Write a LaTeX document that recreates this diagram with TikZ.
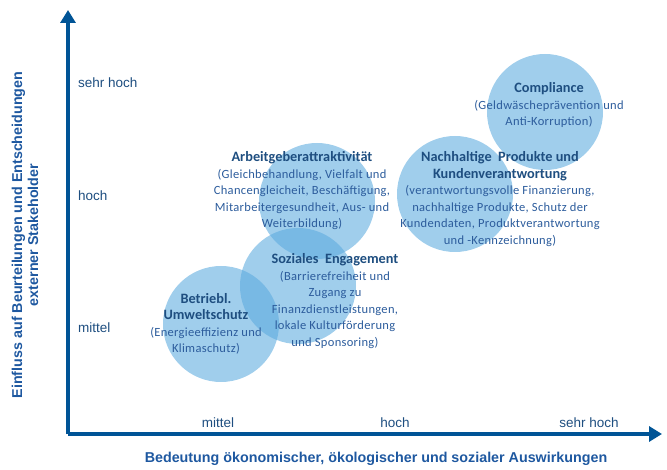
\documentclass[tikz,border=0pt]{standalone}
\usepackage{fontspec}
\setmainfont{Carlito}
\newfontfamily\bodyfont[LetterSpace=2.5]{Carlito}
\newfontfamily\axisfont{Liberation Sans}
\usepackage{tikz}
\usetikzlibrary{shapes,arrows.meta,positioning,calc}
\definecolor{axisblue}{RGB}{0,84,150}
\definecolor{titleblue}{RGB}{30,78,128}
\definecolor{bodyblue}{RGB}{44,92,156}
\definecolor{labelblue}{RGB}{30,88,160}
\definecolor{bubbleblue}{RGB}{91,170,222}
\tikzstyle{bubble} = [circle, fill=bubbleblue, fill opacity=0.58, minimum size=116pt, inner sep=0pt]
\tikzstyle{topic} = [align=center, text=bodyblue, inner sep=0pt, font=\bodyfont\fontsize{12.5}{16.5}\selectfont]
\tikzstyle{level} = [text=titleblue, inner sep=0pt, font=\axisfont\fontsize{13.5}{16}\selectfont]
\tikzstyle{axislabel} = [text=labelblue, inner sep=0pt, align=center, font=\axisfont\bfseries\fontsize{14.3}{16}\selectfont]
\tikzstyle{axis} = [draw=axisblue, line width=3.2pt, -{Triangle[length=13pt,width=15pt]}]
\newcommand{\ttl}[1]{{\fontsize{14.3}{16.5}\selectfont\rmfamily\bfseries\textcolor{titleblue}{#1}}}

\begin{document}
\begin{tikzpicture}[x=1pt, y=1pt]
		\useasboundingbox (0,0) rectangle (667,469);
		% Axes
		\coordinate (Origin) at (68,35);
		\coordinate (YTip) at (68,459);
		\coordinate (XTip) at (662,35);
		\path [axis] (Origin) -- (YTip);
		\path [axis] (Origin) -- (XTip);
		
		% Levels
		\node[level, anchor=west] (YVeryHigh) at (78,386) {sehr hoch};
		\node[level, anchor=west] (YHigh) at (78,273) {hoch};
		\node[level, anchor=west] (YMedium) at (78,141) {mittel};
		\node[level] (XMedium) at (218,46) {mittel};
		\node[level] (XHigh) at (395,46) {hoch};
		\node[level] (XVeryHigh) at (589,46) {sehr hoch};
		
		% Axis titles
		\node[axislabel] (XTitle) at (376,10) {Bedeutung ökonomischer, ökologischer und sozialer Auswirkungen};
		\node[axislabel, rotate=90] (YTitle) at (25,234) {Einfluss auf Beurteilungen und Entscheidungen\\externer Stakeholder};
		
		% Bubbles
		\node[bubble] (ComplianceBubble) at (545,357) {};
		\node[bubble] (ProductsBubble) at (455,275) {};
		\node[bubble] (EmployerBubble) at (317,268) {};
		\node[bubble] (SocialBubble) at (298,183) {};
		\node[bubble] (EnvironmentBubble) at (221,145) {};
		
		% Topics
		\node[topic] (Compliance) at (549,364) {\ttl{Compliance}\\(Geldwäscheprävention und\\Anti-Korruption)};
		\node[topic] (Products) at (500,270) {\ttl{Nachhaltige\ \ Produkte und}\\\ttl{Kundenverantwortung}\\(verantwortungsvolle Finanzierung,\\nachhaltige Produkte, Schutz der\\Kundendaten, Produktverantwortung\\und -Kennzeichnung)};
		\node[topic] (Employer) at (302,278) {\ttl{Arbeitgeberattraktivität}\\(Gleichbehandlung, Vielfalt und\\Chancengleicheit, Beschäftigung,\\Mitarbeitergesundheit, Aus- und\\Weiterbildung)};
		\node[topic] (Social) at (335,168) {\ttl{Soziales\ \ Engagement}\\(Barrierefreiheit und\\Zugang zu\\Finanzdienstleistungen,\\lokale Kulturförderung\\und Sponsoring)};
		\node[topic] (Environment) at (206,145) {\ttl{Betriebl.}\\\ttl{Umweltschutz}\\(Energieeffizienz und\\Klimaschutz)};
		
	\end{tikzpicture}
\end{document}
